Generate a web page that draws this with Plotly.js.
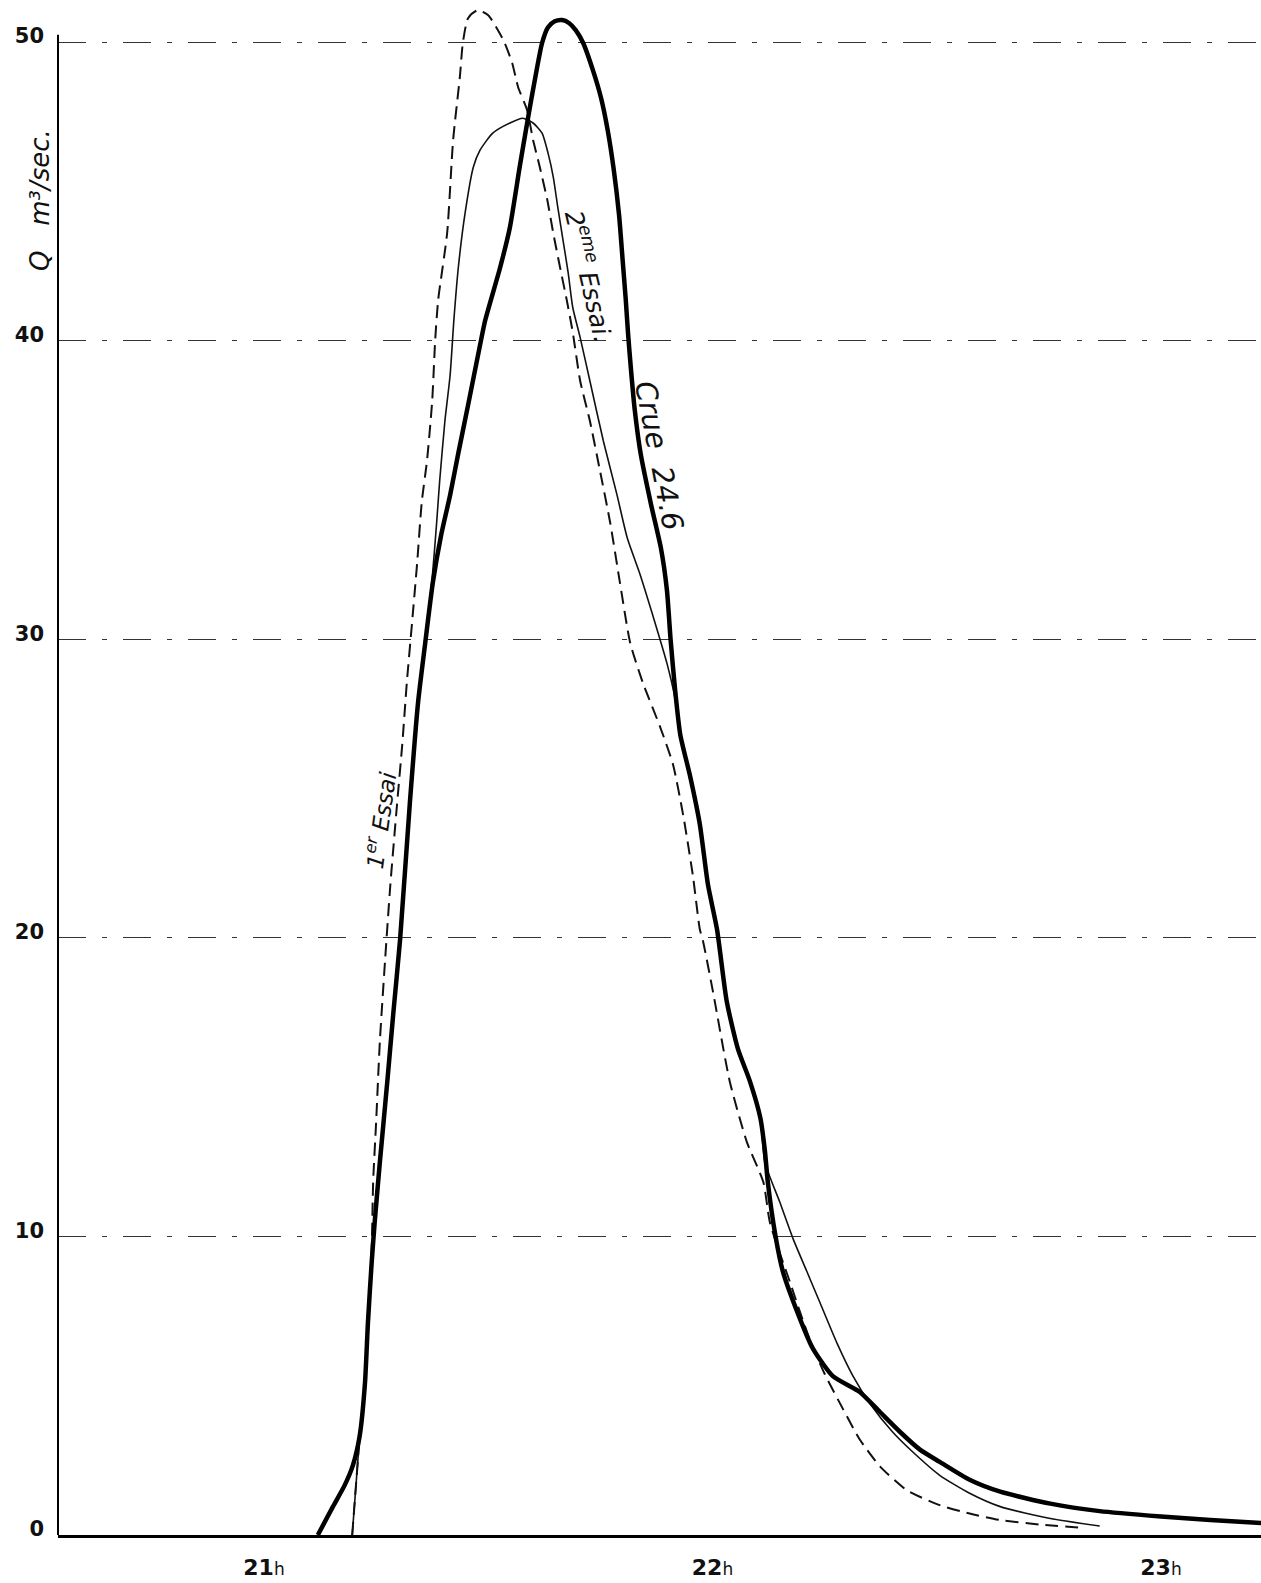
<!DOCTYPE html>
<html>
<head>
<meta charset="utf-8">
<script src="https://cdn.plot.ly/plotly-3.0.1.min.js"></script>
<style>html,body{margin:0;padding:0;background:#fff;}#chart{width:1261px;height:1583px;}</style>
</head>
<body>
<div id="chart"></div>
<script>
// Time in minutes after 20h00; discharge Q in m3/sec
const tickMinutes = [60, 120, 180];
const tickLabels = ["21", "22", "23"];
const qTicks = [0, 10, 20, 30, 40, 50];

// Crue 24.6 (thick line)
const crueT = [67.2, 69.2, 70.8, 71.9, 72.8, 73.5, 73.9, 74.4, 74.8, 75.5, 76.5, 77.3, 78.2, 79.5, 80.6, 81.5, 82.6, 83.7, 84.9, 86.0, 87.3, 88.9, 89.6, 91.6, 92.9, 94.2, 95.2, 96.3, 97.2, 98.0, 98.9, 99.9, 100.8, 101.7, 102.7, 104.0, 105.1, 106.0, 106.8, 107.5, 108.0, 108.4, 108.7, 109.1, 109.6, 110.4, 111.8, 113.1, 113.9, 114.4, 115.0, 115.7, 117.0, 118.3, 119.4, 120.6, 121.9, 123.4, 125.0, 126.4, 127.0, 127.4, 128.4, 129.4, 131.3, 133.4, 136.1, 139.7, 142.4, 145.1, 147.8, 150.4, 154.4, 158.5, 165.2, 171.8, 180.0, 186.6, 193.4];
const crueQ = [0, 0.94, 1.67, 2.34, 3.32, 5.06, 7.10, 9.11, 10.45, 12.49, 15.20, 17.48, 19.93, 24.48, 27.86, 29.74, 31.92, 33.49, 34.83, 36.24, 37.84, 39.85, 40.69, 42.46, 43.80, 45.81, 47.29, 48.83, 49.97, 50.50, 50.70, 50.74, 50.64, 50.40, 49.97, 49.06, 48.12, 47.02, 45.71, 44.21, 42.63, 41.36, 40.25, 39.02, 37.68, 36.20, 34.49, 33.05, 31.65, 29.97, 28.30, 26.79, 25.42, 23.81, 21.77, 20.29, 17.88, 16.28, 15.20, 13.97, 12.89, 11.82, 10.05, 8.84, 7.50, 6.26, 5.32, 4.79, 4.12, 3.45, 2.85, 2.45, 1.85, 1.45, 1.05, 0.8, 0.62, 0.5, 0.4];

// 2eme Essai (thin line)
const essai2T = [71.8, 72.6, 72.8, 73.5, 73.9, 74.4, 74.8, 75.5, 76.5, 77.3, 78.2, 79.5, 80.6, 81.5, 82.5, 83.1, 83.5, 84.2, 84.9, 85.4, 86.0, 86.9, 88.0, 88.9, 90.6, 92.9, 94.6, 96.0, 97.2, 98.0, 98.7, 99.3, 100.0, 100.7, 101.3, 102.3, 103.6, 105.4, 107.2, 108.6, 110.3, 112.0, 113.9, 115.0, 115.7, 117.0, 118.3, 119.4, 120.6, 121.9, 123.4, 125.0, 126.4, 127.0, 129.0, 130.8, 132.6, 134.4, 136.7, 138.8, 141.1, 144.1, 146.8, 150.4, 154.4, 158.5, 165.2, 171.8];
const essai2Q = [0, 2.65, 3.32, 5.06, 7.10, 9.11, 10.45, 12.49, 15.20, 17.48, 19.93, 24.48, 27.86, 29.74, 32.05, 33.92, 35.30, 37.31, 38.85, 40.69, 42.46, 44.27, 45.81, 46.38, 46.95, 47.29, 47.45, 47.29, 46.95, 46.28, 45.48, 44.47, 43.37, 42.26, 41.12, 40.1, 38.65, 36.64, 34.86, 33.39, 32.18, 30.81, 29.20, 28.00, 26.79, 25.42, 23.81, 21.77, 20.29, 17.88, 16.28, 15.20, 13.97, 12.49, 11.15, 9.91, 8.84, 7.77, 6.40, 5.32, 4.39, 3.45, 2.78, 2.0, 1.4, 0.95, 0.55, 0.3];

// 1er Essai (dashed line)
const essai1T = [71.8, 72.6, 72.8, 73.5, 73.9, 74.4, 74.6, 75.0, 75.5, 76.2, 76.9, 77.8, 78.5, 79.1, 79.8, 80.5, 81.1, 81.8, 82.5, 82.9, 83.3, 84.5, 85.3, 86.2, 86.6, 87.3, 88.6, 90.0, 91.3, 92.2, 93.2, 94.0, 95.2, 96.0, 96.9, 97.9, 98.7, 99.6, 100.5, 101.3, 102.3, 103.6, 104.9, 106.3, 107.6, 109.0, 110.7, 113.0, 114.7, 116.1, 117.4, 118.3, 118.7, 120.1, 122.3, 124.6, 126.8, 127.7, 130.4, 133.0, 135.0, 137.5, 139.7, 142.4, 146.0, 150.4, 154.4, 158.5, 163.8, 169.2];
const essai1Q = [0, 2.65, 3.32, 5.06, 7.10, 9.54, 11.82, 13.83, 16.54, 19.26, 21.77, 24.48, 26.49, 28.53, 30.54, 32.59, 34.59, 35.97, 37.98, 40.02, 41.36, 43.60, 46.72, 48.83, 49.97, 50.80, 51.07, 50.90, 50.40, 49.97, 49.30, 48.49, 47.72, 46.72, 45.81, 44.71, 43.60, 42.46, 41.36, 40.29, 38.65, 37.31, 35.70, 33.92, 31.92, 29.87, 28.53, 27.06, 25.82, 24.08, 22.04, 20.29, 19.93, 18.15, 15.20, 13.16, 11.82, 10.45, 8.44, 6.55, 5.40, 4.20, 3.20, 2.30, 1.50, 1.00, 0.72, 0.50, 0.35, 0.25];

const traces = [
  {x: essai1T, y: essai1Q, mode: 'lines', name: '1er Essai',
   line: {color: '#111', width: 2, dash: '13px,7px', shape: 'spline', smoothing: 0.6}},
  {x: essai2T, y: essai2Q, mode: 'lines', name: '2eme Essai',
   line: {color: '#111', width: 1.6, shape: 'spline', smoothing: 0.6}},
  {x: crueT, y: crueQ, mode: 'lines', name: 'Crue 24.6',
   line: {color: '#000', width: 4.5, shape: 'spline', smoothing: 0.6}}
];

const W = 1261, H = 1583, ML = 58, MB = 48;
const pw = W - ML, ph = H - MB;
function px(xp) { return (xp - ML) / pw; }
function py(yp) { return (ph - yp) / ph; }

const layout = {
  width: W, height: H,
  margin: {l: ML, r: 0, t: 0, b: MB, pad: 0},
  paper_bgcolor: '#fff', plot_bgcolor: '#fff',
  showlegend: false,
  xaxis: {
    range: [32.44, 193.38],
    tickvals: tickMinutes,
    ticktext: tickLabels.map(t => '<b>' + t + '</b><span style="font-size:17px">h</span>'),
    ticks: '', showgrid: false, zeroline: false,
    showline: true, linecolor: '#000', linewidth: 3,
    tickfont: {family: 'DejaVu Sans', size: 22, color: '#111'},
    ticklabelstandoff: 11
  },
  yaxis: {
    range: [0, 51.41],
    tickvals: qTicks,
    ticks: '', zeroline: false, showline: false,
    showgrid: true, gridcolor: '#333', gridwidth: 1.2, griddash: '28px,16px,5px,16px',
    tickfont: {family: 'DejaVu Sans', size: 21, color: '#111', weight: 'bold'},
    ticklabelstandoff: 13,
    ticklabelshift: -6
  },
  shapes: [
    {type: 'line', xref: 'paper', yref: 'y', x0: 0, x1: 0, y0: 0, y1: 50.25,
     line: {color: '#000', width: 2}}
  ],
  annotations: [
    {text: '<i>Q   m³/sec.</i>', xref: 'paper', yref: 'paper', x: px(40), y: py(200),
     textangle: -90, showarrow: false, xanchor: 'center', yanchor: 'middle',
     font: {family: 'DejaVu Sans', size: 26, color: '#111'}},
    {text: '<i>1<sup>er</sup> Essai</i>', xref: 'paper', yref: 'paper', x: px(380), y: py(820),
     textangle: -82, showarrow: false, xanchor: 'center', yanchor: 'middle',
     font: {family: 'DejaVu Sans', size: 23, color: '#111'}},
    {text: '<i>2<sup>eme</sup> Essai.</i>', xref: 'paper', yref: 'paper', x: px(590), y: py(276),
     textangle: 77, showarrow: false, xanchor: 'center', yanchor: 'middle',
     font: {family: 'DejaVu Sans', size: 25, color: '#111'}},
    {text: '<i>Crue  24.6</i>', xref: 'paper', yref: 'paper', x: px(659), y: py(455),
     textangle: 79, showarrow: false, xanchor: 'center', yanchor: 'middle',
     font: {family: 'DejaVu Sans', size: 29, color: '#111'}}
  ]
};

Plotly.newPlot('chart', traces, layout, {staticPlot: true, displayModeBar: false});
</script>
</body>
</html>
